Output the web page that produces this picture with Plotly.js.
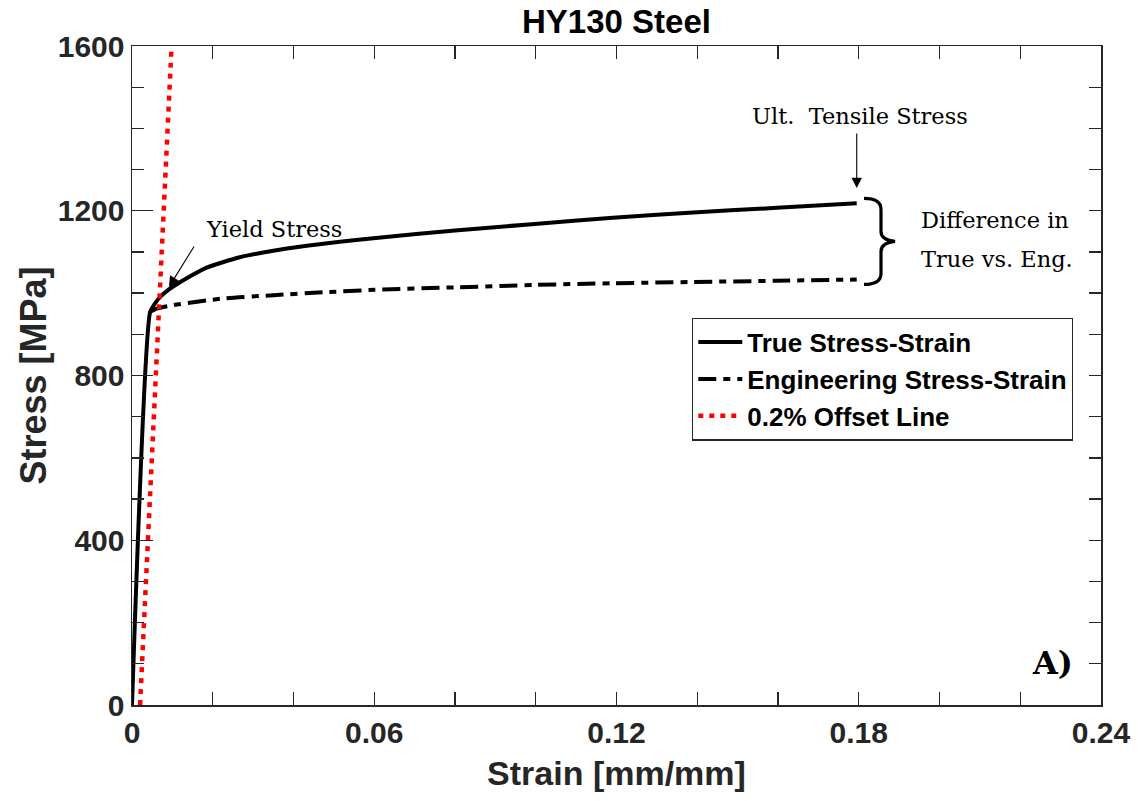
<!DOCTYPE html>
<html>
<head>
<meta charset="utf-8">
<script src="https://cdn.plot.ly/plotly-3.0.1.min.js"></script>
<style>
  html, body { margin: 0; padding: 0; background: #fff; }
  #chart { width: 1138px; height: 801px; }
</style>
</head>
<body>
<div id="chart"></div>
<script>
// HY130 steel tensile test: true vs. engineering stress-strain
const strainTrue = [0, 0.0045, 0.0055, 0.0069, 0.0086, 0.0102, 0.0144, 0.0185, 0.0267, 0.0350, 0.0433, 0.0515, 0.0604, 0.0800, 0.0998, 0.1191, 0.1390, 0.1597, 0.1795];
const stressTrue = [0, 955, 972, 990, 1005, 1016, 1041, 1062, 1087, 1103, 1115, 1125, 1134, 1152, 1168, 1183, 1196, 1207, 1218];

const strainEng = [0.0045, 0.0060, 0.0102, 0.0226, 0.0350, 0.0474, 0.0600, 0.0800, 0.0998, 0.1191, 0.1390, 0.1597, 0.1795];
const stressEng = [955, 962, 971, 987, 995, 1002, 1008, 1014, 1020, 1024, 1027, 1030, 1033];

// 0.2% offset line
const offsetStrain = [0.002, 0.0098];
const offsetStress = [0, 1600];

const seriesNames = ['True Stress-Strain', 'Engineering Stress-Strain', '0.2% Offset Line'];
const xTicks = [0, 0.06, 0.12, 0.18, 0.24];
const xTickText = ['0', '0.06', '0.12', '0.18', '0.24'];
const yTicks = [0, 400, 800, 1200, 1600];
const yTickText = ['0', '400', '800', '1200', '1600'];

const AX = '#262626';
const SANS = 'Liberation Sans, Arial, sans-serif';
const SERIF = 'DejaVu Serif, serif';

const traces = [
  {
    x: strainTrue, y: stressTrue, name: seriesNames[0], mode: 'lines',
    line: { color: '#000', width: 4, shape: 'spline', smoothing: 0.6 }, legendgroup: 'a'
  },
  {
    x: strainEng, y: stressEng, name: seriesNames[1], mode: 'lines',
    line: { color: '#000', width: 4, dash: '18px,7px,7px,7px', shape: 'spline', smoothing: 0.6 }, legendgroup: 'a'
  },
  {
    x: offsetStrain, y: offsetStress, name: seriesNames[2], mode: 'lines',
    line: { color: '#ff0000', width: 4.5, dash: '5px,6px' }, legendgroup: 'a'
  },
  {
    // empty trace that carries the mirrored top/right tick axes
    x: [], y: [], xaxis: 'x2', yaxis: 'y2', mode: 'lines',
    showlegend: false, hoverinfo: 'skip'
  }
];

const nT = strainTrue.length - 1;
const nE = strainEng.length - 1;
const braceMid = (stressTrue[nT] + stressEng[nE]) / 2;

const layout = {
  width: 1138, height: 801,
  paper_bgcolor: '#fff', plot_bgcolor: '#fff',
  margin: { l: 132, r: 37, t: 46, b: 96 },
  showlegend: true,
  title: {
    text: 'HY130 Steel',
    font: { family: SANS, size: 33, weight: 'bold', color: '#000' },
    x: 0.5, xref: 'paper', xanchor: 'center',
    y: 1 - 21 / 801, yref: 'container', yanchor: 'middle'
  },
  xaxis: {
    range: [0, 0.24], tickvals: xTicks, ticktext: xTickText,
    ticks: 'inside', ticklen: 13, tickwidth: 1.3, tickcolor: AX,
    minor: { dtick: 0.02, ticks: 'inside', ticklen: 13, tickwidth: 1.3, tickcolor: AX, showgrid: false },
    showline: true, linecolor: AX, linewidth: 1.5, mirror: true,
    showgrid: false, zeroline: false,
    tickfont: { family: SANS, size: 30, weight: 'bold', color: AX },
    title: { text: 'Strain [mm/mm]', font: { family: SANS, size: 34, weight: 'bold', color: AX }, standoff: 13 }
  },
  xaxis2: {
    overlaying: 'x', side: 'top', anchor: 'y2', range: [0, 0.24], dtick: 0.02, tick0: 0,
    ticks: 'inside', ticklen: 13, tickwidth: 1.3, tickcolor: AX,
    showticklabels: false, showgrid: false, zeroline: false, showline: false
  },
  yaxis: {
    range: [0, 1600], tickvals: yTicks, ticktext: yTickText,
    ticks: 'inside', ticklen: 21, tickwidth: 1.3, tickcolor: AX,
    minor: { dtick: 100, ticks: 'inside', ticklen: 12, tickwidth: 1.3, tickcolor: AX, showgrid: false },
    showline: true, linecolor: AX, linewidth: 1.5, mirror: true,
    showgrid: false, zeroline: false,
    tickfont: { family: SANS, size: 30, weight: 'bold', color: AX },
    title: { text: 'Stress [MPa]', font: { family: SANS, size: 36, weight: 'bold', color: AX }, standoff: 0 }
  },
  yaxis2: {
    overlaying: 'y', side: 'right', anchor: 'x2', range: [0, 1600], dtick: 100, tick0: 0,
    ticks: 'inside', ticklen: 12, tickwidth: 1.3, tickcolor: AX,
    showticklabels: false, showgrid: false, zeroline: false, showline: false
  },
  legend: {
    x: 0.578, y: 0.588, xanchor: 'left', yanchor: 'top',
    bgcolor: '#fff', bordercolor: AX, borderwidth: 1.2,
    font: { family: SANS, size: 26, weight: 'bold', color: '#000' },
    itemwidth: 44, tracegroupgap: 0, traceorder: 'normal'
  },
  shapes: [
    {
      // brace spanning the gap between the two curves at the ultimate point
      type: 'path', xref: 'x', yref: 'y',
      xsizemode: 'pixel', ysizemode: 'pixel',
      xanchor: strainTrue[nT] + 0.0018, yanchor: braceMid,
      path: 'M0,43 C10,43 17,40 17,32 L17,10 C17,4 22,1 31,0 C22,-1 17,-4 17,-10 L17,-32 C17,-40 10,-43 0,-43',
      line: { color: '#000', width: 3.2 }
    }
  ],
  annotations: [
    {
      x: 0.00916, y: 1015, xref: 'x', yref: 'y', text: '',
      showarrow: true, ax: 26, ay: -42, arrowhead: 2, arrowsize: 1.9, arrowwidth: 1.1, arrowcolor: '#000'
    },
    {
      x: 0.03505, y: 1156, xref: 'x', yref: 'y', text: 'Yield Stress', showarrow: false,
      font: { family: SERIF, size: 22.5, color: '#000' }
    },
    {
      x: strainTrue[nT], y: 1255, xref: 'x', yref: 'y', text: '',
      showarrow: true, ax: 0, ay: -56, arrowhead: 2, arrowsize: 1.9, arrowwidth: 1.1, arrowcolor: '#000'
    },
    {
      x: 0.1803, y: 1430, xref: 'x', yref: 'y', text: 'Ult.  Tensile Stress', showarrow: false,
      font: { family: SERIF, size: 22.5, color: '#000' }
    },
    {
      x: 0.1949, y: 1177, xref: 'x', yref: 'y', xanchor: 'left', text: 'Difference in', showarrow: false,
      font: { family: SERIF, size: 22.5, color: '#000' }
    },
    {
      x: 0.1949, y: 1083, xref: 'x', yref: 'y', xanchor: 'left', text: 'True vs. Eng.', showarrow: false,
      font: { family: SERIF, size: 22.5, color: '#000' }
    },
    {
      x: 0.2336, y: 102, xref: 'x', yref: 'y', xanchor: 'right', text: 'A)', showarrow: false,
      font: { family: SERIF, size: 32, weight: 'bold', color: '#000' }
    }
  ]
};

Plotly.newPlot('chart', traces, layout, { displayModeBar: false, staticPlot: true });
</script>
</body>
</html>
